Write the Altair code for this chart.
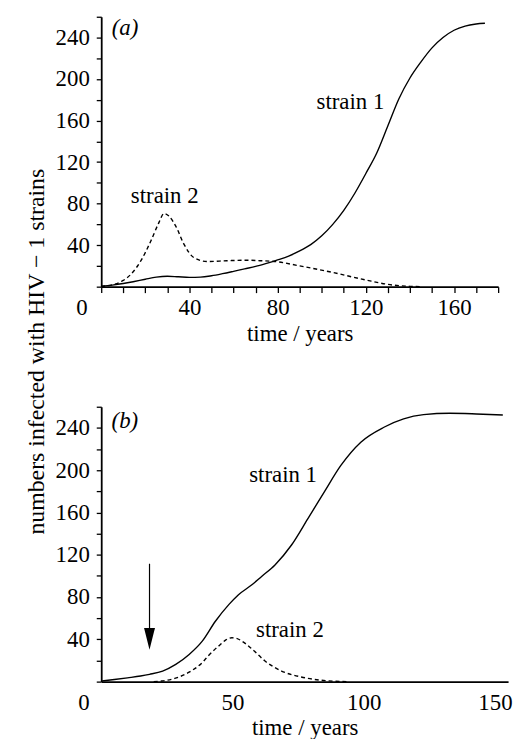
import altair as alt
import pandas as pd

FONT = "Liberation Serif"

# ---------------- panel (a) data ----------------
a_t1 = [0, 5, 10, 15, 20, 25, 30, 35, 40, 45, 50, 55, 60, 65, 70, 75, 80, 85, 90,
        95, 100, 105, 110, 115, 120, 125, 130, 135, 140, 145, 150, 155, 160, 165, 170, 174]
a_s1 = [0.5, 1.5, 3, 5, 7.2, 9.2, 10, 9.5, 9, 9.2, 10.5, 12.5, 14.8, 17.2, 19.5, 22.5, 25.8,
        29.5, 34.4, 40.5, 49, 60, 73.5, 90, 109, 129, 155, 181, 201, 216.5, 230, 240, 247,
        251, 253, 253.7]
a_t2 = [0, 5, 10, 13.5, 18, 22.5, 26, 28.5, 30.7, 33.8, 37.5, 42, 48, 57, 66, 72, 79, 90,
        105, 120, 132, 140, 145]
a_s2 = [0.3, 1.8, 6, 12, 25, 44, 61, 70.5, 68, 58.3, 41, 28, 24.2, 25, 25.5, 25, 24.2, 20,
        13.7, 6.4, 1.6, 0.3, 0]
a_x_ticks = list(range(0, 181, 10))
a_lab_text = ["strain 2", "strain 1"]
a_lab_x = [28.8, 113]
a_lab_y = [87, 178]
a_tag_text = ["(a)"]
a_tag_x = [10.8]
a_tag_y = [249.5]

# ---------------- panel (b) data ----------------
b_t1 = [0, 5, 10, 15, 18.4, 23.4, 28.4, 33.5, 38.5, 43.5, 48.6, 52.3, 57.4, 61.1, 66.2,
        72.5, 78.8, 85, 91.3, 98.9, 107.7, 115.2, 122.8, 132.8, 142.9, 153]
b_s1 = [0.5, 2, 3.6, 5.3, 6.9, 10, 16.3, 25.7, 38.3, 57.1, 72.8, 82.2, 91.6, 99.5, 110.4,
        129.2, 154.4, 179.5, 204.5, 226.5, 240.6, 248.5, 252.5, 253.8, 253.2, 252.2]
b_t2 = [20, 23, 28, 33.5, 38.5, 41, 45.4, 47.5, 49.8, 51.5, 53.6, 57.4, 62.4, 68.7, 76.2,
        83.8, 94]
b_s2 = [0, 0.6, 3, 9, 18, 25, 35.1, 39.5, 41.5, 41, 38.3, 31, 19.5, 10, 4.4, 1.3, 0]
b_x_ticks = [0, 50, 100, 150]
b_lab_text = ["strain 1", "strain 2"]
b_lab_x = [69.3, 71.9]
b_lab_y = [195, 49.2]
b_tag_text = ["(b)"]
b_tag_x = [9]
b_tag_y = [246.6]
b_arrow_x = [18.4]
b_arrow_top = [111.5]
b_arrow_end = [45]
b_arrow_head = [40.5]

y_ticks = list(range(0, 261, 20))
Y_TITLE = "numbers infected with HIV \u2212 1 strains"


def y_axis(with_title):
    kw = dict(
        values=y_ticks,
        labelExpr="datum.value % 40 === 0 && datum.value > 0 ? datum.label : ''",
        tickSize=5, tickWidth=1.3, tickColor="black",
        domainColor="black", domainWidth=1.8,
        labelFont=FONT, labelFontSize=23, labelColor="black", labelPadding=7,
        labelOverlap=False, grid=False,
    )
    if with_title:
        kw.update(
            titleFont=FONT, titleFontSize=24, titleFontWeight="normal", titleColor="black",
            titleAngle=270, titleX=-58, titleY=337, titleAlign="center",
            titleBaseline="alphabetic",
        )
    return alt.Axis(**kw)


def x_axis(values, expr, tick_size, pad, zero_off, title_y):
    return alt.Axis(
        values=values, labelExpr=expr,
        tickSize=tick_size, tickWidth=1.3, tickColor="black",
        domainColor="black", domainWidth=1.8,
        labelFont=FONT, labelFontSize=23, labelColor="black", labelPadding=pad,
        labelOverlap=False, labelFlush=False, grid=False, labelAngle=0,
        labelOffset={"condition": {"test": "datum.value === 0", "value": zero_off}, "value": 0},
        titleFont=FONT, titleFontSize=23, titleFontWeight="normal", titleColor="black",
        titleY=title_y, titleBaseline="alphabetic", titleAlign="center",
    )


# ---------------- panel (a) ----------------
ax_a = x_axis(a_x_ticks, "datum.value % 40 === 0 ? datum.label : ''", 6, 4, -20, 54)
xa = alt.X("t:Q", scale=alt.Scale(domain=[0, 180], nice=False), axis=ax_a, title="time / years")
ya = alt.Y("v:Q", scale=alt.Scale(domain=[0, 260], nice=False), axis=y_axis(True), title=Y_TITLE)

a1 = alt.Chart(pd.DataFrame({"t": a_t1, "v": a_s1})).mark_line(
    color="black", strokeWidth=1.4, interpolate="monotone").encode(x=xa, y=ya)
a2 = alt.Chart(pd.DataFrame({"t": a_t2, "v": a_s2})).mark_line(
    color="black", strokeWidth=1.4, strokeDash=[4, 3], interpolate="monotone").encode(x=xa, y=ya)
a_lab = alt.Chart(pd.DataFrame({"t": a_lab_x, "v": a_lab_y, "s": a_lab_text})).mark_text(
    font=FONT, fontSize=23, color="black", align="center", baseline="middle").encode(
    x=xa, y=ya, text="s:N")
a_tag = alt.Chart(pd.DataFrame({"t": a_tag_x, "v": a_tag_y, "s": a_tag_text})).mark_text(
    font=FONT, fontSize=23, fontStyle="italic", color="black", align="center",
    baseline="middle").encode(x=xa, y=ya, text="s:N")
panel_a = alt.layer(a1, a2, a_lab, a_tag).properties(width=400, height=272)

# ---------------- panel (b) ----------------
ax_b = x_axis(b_x_ticks, "datum.label", 0, 10, -18, 53)
xb = alt.X("t:Q", scale=alt.Scale(domain=[0, 155], nice=False), axis=ax_b, title="time / years")
yb = alt.Y("v:Q", scale=alt.Scale(domain=[0, 260], nice=False), axis=y_axis(False), title=None)

b1 = alt.Chart(pd.DataFrame({"t": b_t1, "v": b_s1})).mark_line(
    color="black", strokeWidth=1.4, interpolate="monotone").encode(x=xb, y=yb)
b2 = alt.Chart(pd.DataFrame({"t": b_t2, "v": b_s2})).mark_line(
    color="black", strokeWidth=1.4, strokeDash=[4, 3], interpolate="monotone").encode(x=xb, y=yb)
b_lab = alt.Chart(pd.DataFrame({"t": b_lab_x, "v": b_lab_y, "s": b_lab_text})).mark_text(
    font=FONT, fontSize=23, color="black", align="center", baseline="middle").encode(
    x=xb, y=yb, text="s:N")
b_tag = alt.Chart(pd.DataFrame({"t": b_tag_x, "v": b_tag_y, "s": b_tag_text})).mark_text(
    font=FONT, fontSize=23, fontStyle="italic", color="black", align="center",
    baseline="middle").encode(x=xb, y=yb, text="s:N")
arrow_df = pd.DataFrame({"t": b_arrow_x, "v": b_arrow_top, "v2": b_arrow_end, "h": b_arrow_head})
b_rule = alt.Chart(arrow_df).mark_rule(color="black", strokeWidth=1.2).encode(
    x=xb, y=yb, y2="v2:Q")
b_head = alt.Chart(arrow_df).mark_point(
    shape="M-0.5,-1L0.5,-1L0,1Z", filled=True, color="black", opacity=1, size=484,
    strokeWidth=0).encode(x=xb, y=alt.Y("h:Q", scale=alt.Scale(domain=[0, 260], nice=False),
                                        axis=y_axis(False), title=None))
panel_b = alt.layer(b1, b2, b_lab, b_tag, b_rule, b_head).properties(width=410, height=277)

chart = alt.vconcat(panel_a, panel_b, spacing=121, bounds="flush").properties(
    padding={"left": 25, "top": 3, "right": 5, "bottom": 5},
    background="white",
).configure_view(stroke=None)

chart.save("out.html", embed_options={"renderer": "svg", "actions": False})
